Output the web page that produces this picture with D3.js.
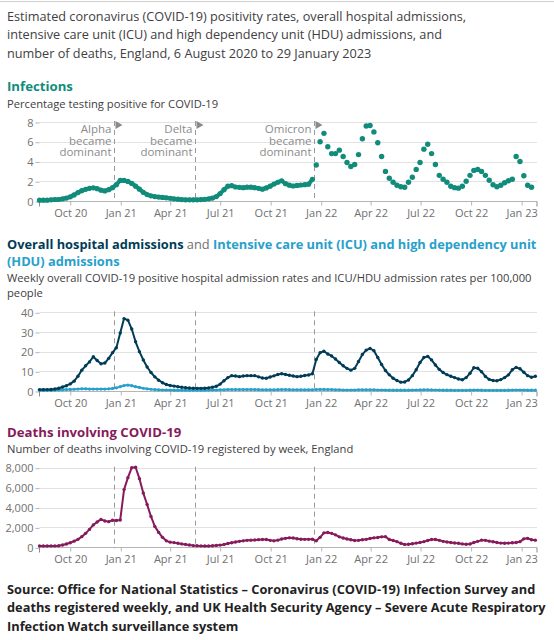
<!DOCTYPE html>
<html>
<head>
<meta charset="utf-8">
<script src="https://cdn.jsdelivr.net/npm/d3@7"></script>
<style>
  html, body { margin: 0; padding: 0; background: #fff; }
  svg { display: block; font-family: "Open Sans", sans-serif; }
</style>
</head>
<body>
<svg id="chart" width="554" height="640"></svg>
<script>
// ---------------- DATA ----------------
const startDate = "2020-08-06";           // first weekly observation
const endDate = "2023-01-29";             // end of x domain
const tickDates = ["2020-10-01","2021-01-01","2021-04-01","2021-07-01","2021-10-01",
                   "2022-01-01","2022-04-01","2022-07-01","2022-10-01","2023-01-01"];
const tickLabels = ["Oct 20","Jan 21","Apr 21","Jul 21","Oct 21",
                    "Jan 22","Apr 22","Jul 22","Oct 22","Jan 23"];
const variantDates = ["2020-12-20","2021-05-16","2021-12-19"];
const variantNames = ["Alpha","Delta","Omicron"];

// Infections: % testing positive (weekly), before Omicron dominance
const infectionsPre = [0.08,0.08,0.08,0.12,0.15,0.15,0.22,0.3,0.42,0.62,
  0.85,1.05,1.18,1.28,1.33,1.25,1.1,1.02,1.15,1.35,
  1.65,2.08,2.08,1.98,1.78,1.5,1.2,0.88,0.65,0.52,
  0.45,0.4,0.36,0.32,0.28,0.22,0.18,0.14,0.12,0.12,
  0.12,0.12,0.14,0.17,0.22,0.3,0.45,0.75,1.15,1.5,
  1.55,1.42,1.38,1.35,1.4,1.4,1.35,1.28,1.2,1.32,
  1.5,1.72,1.9,2.05,1.75,1.6,1.52,1.58,1.62,1.65,
  1.7,2.2];
// Infections after Omicron became dominant (weekly)
const infectionsPost = [3.65,6.0,6.85,5.5,4.8,4.8,5.15,4.5,3.9,3.5,
  3.7,4.7,6.3,7.6,7.65,7.0,5.9,4.5,3.0,2.3,
  1.9,1.6,1.45,1.4,1.9,2.4,3.2,3.9,5.25,5.75,
  4.8,3.7,2.6,2.2,1.9,1.5,1.35,1.3,1.5,2.0,
  2.6,3.1,3.2,3.0,2.6,2.1,1.65,1.45,1.6,1.85,
  2.05,2.2,4.5,4.0,2.55,1.6,1.4];

// Overall hospital admissions per 100,000 (weekly)
const hospital = [0.7,0.7,0.7,0.8,1.0,1.4,2.0,2.7,3.6,5.0,
  7.5,10.6,12.8,14.8,17.4,15.5,13.8,14.2,16.6,19.5,
  22.0,29.5,36.8,36.0,31.5,25.0,20.0,15.8,12.2,9.4,
  7.2,5.5,4.2,3.3,2.8,2.5,2.2,1.9,1.7,1.5,
  1.4,1.35,1.35,1.4,1.6,1.9,2.4,3.5,5.2,6.8,
  7.8,7.6,7.3,7.6,7.8,7.8,7.8,7.2,6.6,6.5,
  7.1,7.7,8.4,8.8,8.4,8.0,7.6,7.3,7.5,7.9,
  8.1,8.8,16.0,19.5,20.2,18.8,17.8,16.3,14.5,12.8,
  11.5,10.6,11.5,15.0,18.6,20.8,21.6,20.5,17.0,13.5,
  10.4,8.2,6.5,5.3,4.5,4.6,5.6,7.8,10.8,14.5,
  17.0,17.6,15.8,13.2,11.0,9.4,8.3,7.5,6.8,6.1,
  5.7,6.8,9.0,11.8,11.6,9.8,7.4,5.9,5.3,5.2,
  5.8,6.8,8.2,10.8,12.0,11.3,9.5,7.8,7.0,7.5];

// ICU/HDU admissions per 100,000 (weekly)
const icu = [0.3,0.3,0.35,0.4,0.45,0.5,0.6,0.7,0.8,0.9,
  1.0,1.1,1.1,1.0,1.0,1.0,1.0,1.0,1.1,1.3,
  1.6,2.2,2.8,3.0,2.7,2.2,1.8,1.4,1.1,0.9,
  0.7,0.6,0.5,0.5,0.45,0.4,0.4,0.4,0.4,0.4,
  0.4,0.4,0.4,0.4,0.45,0.5,0.5,0.6,0.6,0.7,
  0.7,0.7,0.7,0.7,0.7,0.7,0.7,0.65,0.6,0.6,
  0.6,0.6,0.65,0.7,0.7,0.65,0.6,0.6,0.6,0.6,
  0.6,0.6,0.7,0.8,0.8,0.7,0.7,0.6,0.6,0.5,
  0.5,0.5,0.5,0.6,0.6,0.6,0.6,0.6,0.5,0.5,
  0.45,0.4,0.4,0.4,0.4,0.4,0.4,0.45,0.5,0.55,
  0.6,0.6,0.55,0.5,0.45,0.4,0.4,0.4,0.35,0.35,
  0.35,0.35,0.4,0.45,0.45,0.4,0.35,0.35,0.35,0.35,
  0.35,0.35,0.4,0.45,0.5,0.5,0.45,0.4,0.4,0.4];

// Deaths involving COVID-19 registered by week, England
const deaths = [130,130,130,140,140,160,230,330,460,620,
  800,1070,1400,1800,2250,2550,2800,2650,2580,2720,
  2700,2750,5800,7000,8000,8050,6900,5450,4300,3100,
  2100,1500,1000,650,520,470,400,340,290,230,
  170,150,140,130,130,150,190,220,290,380,
  460,540,600,650,700,720,740,770,790,780,
  700,650,720,830,900,950,940,860,810,800,
  800,810,650,1000,1450,1480,1400,1250,1050,930,
  830,760,680,700,760,800,880,950,990,1050,
  1070,780,680,570,400,290,300,360,420,490,
  570,680,780,790,700,600,540,480,430,400,
  340,300,330,480,600,720,700,620,560,480,
  420,400,420,460,480,570,850,900,760,720];

const infYTicks = [0,2,4,6,8];
const hosYTicks = [0,10,20,30,40];
const dthYTicks = [0,2000,4000,6000,8000];

// ---------------- COLOURS ----------------
const C = {
  text: "#414042", sub: "#414042", axis: "#707070", grid: "#e2e2e2",
  inf: "#118c7b", hosp: "#003c57", icu: "#27a0cc", death: "#871a5b",
  annot: "#8c8c8c", dash: "#9a9a9a"
};

// ---------------- SETUP ----------------
const svg = d3.select("#chart");
const parse = d3.timeParse("%Y-%m-%d");
const t0 = parse(startDate);
const nWeeks = hospital.length;
const weeks = d3.range(nWeeks).map(i => d3.timeDay.offset(t0, 7 * i));

const x = d3.scaleTime().domain([t0, parse(endDate)]).range([39.5, 537]);
const plotL = 39.5, plotR = 537;

svg.append("line").attr("x1", 0).attr("x2", 554).attr("y1", 1.5).attr("y2", 1.5)
  .attr("stroke", "#cfcfcf").attr("stroke-width", 1);

function textLines(lines, x0, y0, dy, size, weight, color) {
  lines.forEach((l, i) => {
    svg.append("text").attr("x", x0).attr("y", y0 + i * dy)
      .attr("font-size", size).attr("font-weight", weight).attr("fill", color).text(l);
  });
}

textLines(["Estimated coronavirus (COVID-19) positivity rates, overall hospital admissions,",
           "intensive care unit (ICU) and high dependency unit (HDU) admissions, and",
           "number of deaths, England, 6 August 2020 to 29 January 2023"],
          7, 20.5, 18.5, 12.7, 400, C.text);

// ---------------- PANEL BUILDER ----------------
function panel(opt) {
  const y = d3.scaleLinear().domain([0, opt.max]).range([opt.bottom, opt.top]);
  const g = svg.append("g");
  g.selectAll(".grid").data(opt.yTicks).join("line")
    .attr("x1", plotL).attr("x2", plotR)
    .attr("y1", d => Math.round(y(d)) + 0.5).attr("y2", d => Math.round(y(d)) + 0.5)
    .attr("stroke", C.grid).attr("stroke-width", 1);
  const ya = d3.axisLeft(y).tickValues(opt.yTicks).tickSize(4).tickPadding(2)
    .tickFormat(opt.fmt || (d => d));
  const yg = g.append("g").attr("transform", `translate(${plotL},0.5)`).call(ya);
  yg.select(".domain").remove();
  yg.selectAll(".tick line").attr("stroke", "#b5b5b5");
  yg.selectAll(".tick text").attr("fill", C.axis).attr("font-size", 11)
    .attr("font-family", "Open Sans, sans-serif");
  const xa = d3.axisBottom(x).tickValues(tickDates.map(parse)).tickSize(4).tickPadding(4)
    .tickFormat((d, i) => tickLabels[i]);
  const xg = g.append("g").attr("transform", `translate(0,${Math.round(opt.bottom) + 0.5})`).call(xa);
  xg.select(".domain").attr("stroke", "#b5b5b5").attr("d", `M${plotL},0H${plotR}`);
  xg.selectAll(".tick line").attr("stroke", "#b5b5b5");
  xg.selectAll(".tick text").attr("fill", C.axis).attr("font-size", 11)
    .attr("font-family", "Open Sans, sans-serif");
  [plotL, plotR].forEach(px => xg.append("line").attr("x1", px).attr("x2", px)
    .attr("y1", 0).attr("y2", 5).attr("stroke", "#8a8a8a"));
  variantDates.forEach(d => {
    const px = Math.round(x(parse(d))) + 0.5;
    g.append("line").attr("x1", px).attr("x2", px).attr("y1", opt.top - 1).attr("y2", opt.bottom + 1)
      .attr("stroke", C.dash).attr("stroke-width", 1).attr("stroke-dasharray", "5,4");
  });
  return { y, g };
}

// ---------------- INFECTIONS ----------------
svg.append("text").attr("x", 7).attr("y", 91).attr("font-size", 13.2).attr("font-weight", 700)
  .attr("fill", C.inf).text("Infections");
svg.append("text").attr("x", 7).attr("y", 107.5).attr("font-size", 11.2).attr("fill", C.sub)
  .text("Percentage testing positive for COVID-19");

const p1 = panel({ top: 122, bottom: 201, max: 8, yTicks: infYTicks });
variantDates.forEach((d, i) => {
  const px = Math.round(x(parse(d))) + 0.5;
  p1.g.append("path").attr("d", `M${px + 1},121L${px + 8},125L${px + 1},129Z`).attr("fill", "#8a8a8a");
  const tx = p1.g.append("text").attr("x", px - 3).attr("y", 133).attr("text-anchor", "end")
    .attr("font-size", 11.5).attr("fill", C.annot);
  [variantNames[i], "became", "dominant"].forEach((l, k) => {
    tx.append("tspan").attr("x", px - 3).attr("dy", k === 0 ? 0 : 11.7).text(l);
  });
});
const infAll = infectionsPre.concat(infectionsPost);
const infPts = infAll.map((v, i) => ({ d: weeks[i], v, pre: i < infectionsPre.length }));
const preLine = d3.line().x(d => x(d.d)).y(d => p1.y(d.v));
p1.g.append("path").datum(infPts.filter(d => d.pre)).attr("d", preLine)
  .attr("fill", "none").attr("stroke", C.inf).attr("stroke-width", 4)
  .attr("stroke-linejoin", "round").attr("stroke-linecap", "round");
p1.g.selectAll(".ip").data(infPts).join("circle")
  .attr("cx", d => x(d.d)).attr("cy", d => p1.y(d.v)).attr("r", d => d.pre ? 2.6 : 2.7)
  .attr("fill", C.inf);

// ---------------- HOSPITAL ----------------
const t2 = svg.append("text").attr("x", 7).attr("y", 248.5).attr("font-size", 12.8).attr("font-weight", 700);
t2.append("tspan").attr("fill", C.hosp).text("Overall hospital admissions");
t2.append("tspan").attr("fill", "#707070").attr("font-weight", 400).text(" and ");
t2.append("tspan").attr("fill", C.icu).text("Intensive care unit (ICU) and high dependency unit");
svg.append("text").attr("x", 7).attr("y", 266).attr("font-size", 12.8).attr("font-weight", 700)
  .attr("fill", C.icu).text("(HDU) admissions");
textLines(["Weekly overall COVID-19 positive hospital admission rates and ICU/HDU admission rates per 100,000",
           "people"], 7, 281.5, 15, 11.2, 400, C.sub);

const p2 = panel({ top: 312.3, bottom: 391, max: 40, yTicks: hosYTicks });
function series(p, vals, color, w, r) {
  const pts = vals.map((v, i) => ({ d: weeks[i], v }));
  p.g.append("path").datum(pts)
    .attr("d", d3.line().x(d => x(d.d)).y(d => p.y(d.v)))
    .attr("fill", "none").attr("stroke", color).attr("stroke-width", w).attr("stroke-linejoin", "round");
  p.g.append("g").selectAll("circle").data(pts).join("circle")
    .attr("cx", d => x(d.d)).attr("cy", d => p.y(d.v)).attr("r", r).attr("fill", color);
}
series(p2, icu, C.icu, 2, 1.6);
series(p2, hospital, C.hosp, 2, 1.7);

// ---------------- DEATHS ----------------
svg.append("text").attr("x", 7).attr("y", 437).attr("font-size", 13.2).attr("font-weight", 700)
  .attr("fill", C.death).text("Deaths involving COVID-19");
svg.append("text").attr("x", 7).attr("y", 452.5).attr("font-size", 11.2).attr("fill", C.sub)
  .text("Number of deaths involving COVID-19 registered by week, England");

const p3 = panel({ top: 467.7, bottom: 547.3, max: 8000, yTicks: dthYTicks, fmt: d3.format(",") });
series(p3, deaths, C.death, 2, 1.7);

// ---------------- SOURCE ----------------
textLines(["Source: Office for National Statistics \u2013 Coronavirus (COVID-19) Infection Survey and",
           "deaths registered weekly, and UK Health Security Agency \u2013 Severe Acute Respiratory",
           "Infection Watch surveillance system"], 7, 594, 18.3, 12.8, 700, "#222");
</script>
</body>
</html>
